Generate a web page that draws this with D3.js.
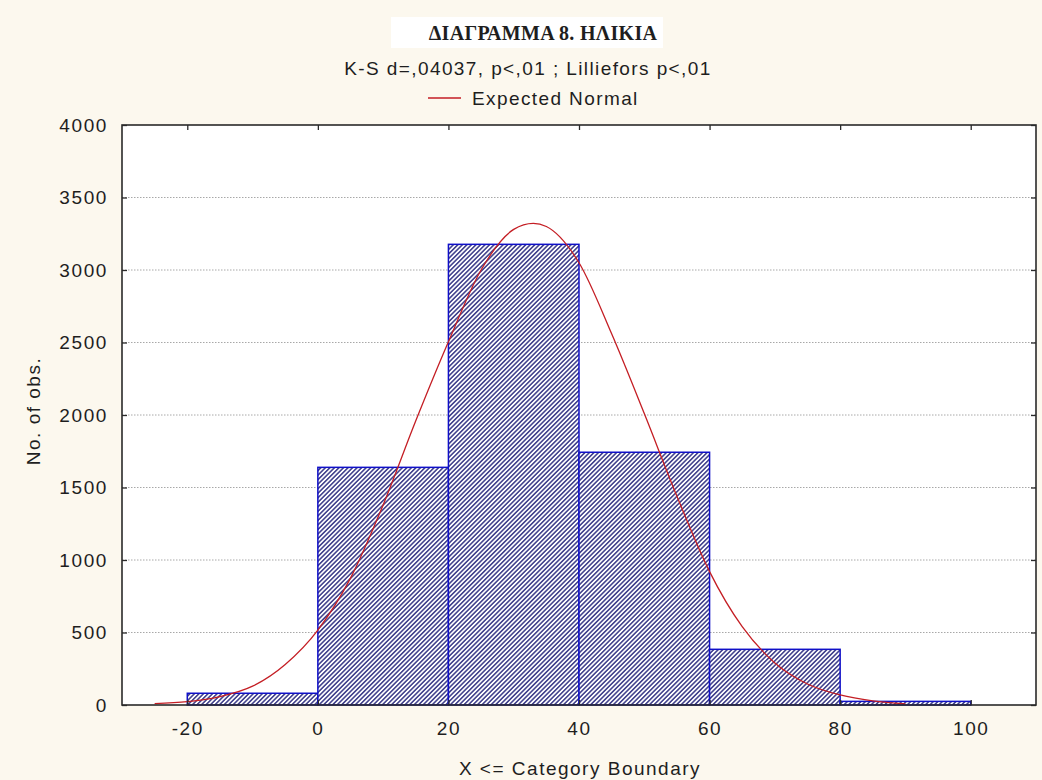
<!DOCTYPE html>
<html>
<head>
<meta charset="utf-8">
<script src="https://cdn.jsdelivr.net/npm/d3@7"></script>
<style>
  html, body { margin: 0; padding: 0; background: #fcf8ee; }
  svg { display: block; }
  text { font-family: "Liberation Sans", Arial, sans-serif; fill: #1e1e1e; }
</style>
</head>
<body>
<svg id="chart" width="1042" height="780"></svg>
<script>
// Histogram of ages: bin edges and observed counts
const binStarts = [-20, 0, 20, 40, 60, 80];
const binEnds   = [0, 20, 40, 60, 80, 100];
const counts    = [81, 1639, 3177, 1743, 384, 25];

// Expected normal curve, sampled along the age axis
const normalX = [-25, -20, -15, -10, -5, 0, 5, 10, 15, 20, 25, 30, 33, 35, 40, 45, 50, 55, 60, 65, 70, 75, 80, 85, 90];
const normalY = [10, 23, 58, 130, 280, 517, 875, 1380, 1960, 2505, 3000, 3280, 3322, 3300, 3050, 2560, 2010, 1440, 920, 540, 290, 145, 69, 28, 8];

// Tick values and axis texts
const xTicks = [-20, 0, 20, 40, 60, 80, 100];
const yTicks = [0, 500, 1000, 1500, 2000, 2500, 3000, 3500, 4000];
const titleText = "ΔΙΑΓΡΑΜΜΑ 8. ΗΛΙΚΙΑ";
const subtitleText = "K-S d=,04037, p<,01 ; Lilliefors p<,01";
const legendText = "Expected Normal";
const xLabel = "X <= Category Boundary";
const yLabel = "No. of obs.";

const svg = d3.select("#chart");
const m = { left: 122, top: 125, right: 1036, bottom: 705 };

const x = d3.scaleLinear().domain([-30, 110]).range([m.left, m.right]);
const y = d3.scaleLinear().domain([0, 4000]).range([m.bottom, m.top]);

// Diagonal hatch fill for the bars
const defs = svg.append("defs");
const pat = defs.append("pattern")
  .attr("id", "hatch")
  .attr("patternUnits", "userSpaceOnUse")
  .attr("width", 3.2).attr("height", 3.2)
  .attr("patternTransform", "rotate(45)");
pat.append("rect").attr("width", 3.2).attr("height", 3.2).attr("fill", "#ffffff");
pat.append("line")
  .attr("x1", 0.8).attr("y1", 0).attr("x2", 0.8).attr("y2", 3.2)
  .attr("stroke", "#23237a").attr("stroke-width", 1.35);

// Plot area
svg.append("rect")
  .attr("x", m.left).attr("y", m.top)
  .attr("width", m.right - m.left).attr("height", m.bottom - m.top)
  .attr("fill", "#ffffff");

// Horizontal dotted grid
svg.append("g")
  .selectAll("line")
  .data(yTicks.filter(d => d > 0 && d < 4000))
  .join("line")
  .attr("x1", m.left).attr("x2", m.right)
  .attr("y1", d => y(d)).attr("y2", d => y(d))
  .attr("stroke", "#a8a8a8").attr("stroke-width", 1)
  .attr("stroke-dasharray", "1.5,1.5");

// Bars
svg.append("g")
  .selectAll("rect")
  .data(counts)
  .join("rect")
  .attr("x", (d, i) => x(binStarts[i]))
  .attr("width", (d, i) => x(binEnds[i]) - x(binStarts[i]))
  .attr("y", d => y(d))
  .attr("height", d => y(0) - y(d))
  .attr("fill", "url(#hatch)")
  .attr("stroke", "#1010c8").attr("stroke-width", 1.5);

// Expected normal curve
const pts = normalX.map((v, i) => [v, normalY[i]]);
const line = d3.line().x(d => x(d[0])).y(d => y(d[1])).curve(d3.curveMonotoneX);
svg.append("path")
  .datum(pts)
  .attr("d", line)
  .attr("fill", "none")
  .attr("stroke", "#c41e24").attr("stroke-width", 1.3);

// Frame
svg.append("rect")
  .attr("x", m.left).attr("y", m.top)
  .attr("width", m.right - m.left).attr("height", m.bottom - m.top)
  .attr("fill", "none").attr("stroke", "#2a2a2a").attr("stroke-width", 1.6);

// Axes with inward ticks
const fs = "19px";
const ls = "1.6px";
const axB = svg.append("g").attr("transform", `translate(0,${m.bottom})`)
  .call(d3.axisBottom(x).tickValues(xTicks).tickSize(-5).tickPadding(17).tickFormat(d => String(d)));
const axT = svg.append("g").attr("transform", `translate(0,${m.top})`)
  .call(d3.axisTop(x).tickValues(xTicks).tickSize(-5).tickFormat(""));
const axL = svg.append("g").attr("transform", `translate(${m.left},0)`)
  .call(d3.axisLeft(y).tickValues(yTicks).tickSize(-5).tickPadding(14).tickFormat(d => String(d)));
const axR = svg.append("g").attr("transform", `translate(${m.right},0)`)
  .call(d3.axisRight(y).tickValues(yTicks).tickSize(-5).tickFormat(""));
[axB, axT, axL, axR].forEach(g => {
  g.select(".domain").remove();
  g.selectAll(".tick line").attr("stroke", "#2a2a2a").attr("stroke-width", 1.3);
  g.selectAll(".tick text")
    .attr("fill", "#1e1e1e")
    .style("font-family", '"Liberation Sans", Arial, sans-serif')
    .style("font-size", fs)
    .style("letter-spacing", ls);
});

// Title block
svg.append("rect")
  .attr("x", 391).attr("y", 17).attr("width", 272).attr("height", 31)
  .attr("fill", "#ffffff");
svg.append("text")
  .attr("x", 543).attr("y", 40)
  .attr("text-anchor", "middle")
  .style("font-family", '"Liberation Serif", "Times New Roman", serif')
  .style("font-weight", "bold")
  .style("font-size", "20px")
  .style("letter-spacing", "0.3px")
  .text(titleText);

svg.append("text")
  .attr("x", 528).attr("y", 75)
  .attr("text-anchor", "middle")
  .style("font-size", fs)
  .style("letter-spacing", "1.4px")
  .text(subtitleText);

// Legend
svg.append("line")
  .attr("x1", 428).attr("x2", 461).attr("y1", 98).attr("y2", 98)
  .attr("stroke", "#c41e24").attr("stroke-width", 1.5);
svg.append("text")
  .attr("x", 472).attr("y", 105)
  .style("font-size", fs)
  .style("letter-spacing", "1.4px")
  .text(legendText);

// Axis titles
svg.append("text")
  .attr("x", 580).attr("y", 775)
  .attr("text-anchor", "middle")
  .style("font-size", fs)
  .style("letter-spacing", "1.5px")
  .text(xLabel);
svg.append("text")
  .attr("transform", `translate(40,${(357 + 465) / 2}) rotate(-90)`)
  .attr("text-anchor", "middle")
  .style("font-size", fs)
  .style("letter-spacing", "1.5px")
  .text(yLabel);
</script>
</body>
</html>
